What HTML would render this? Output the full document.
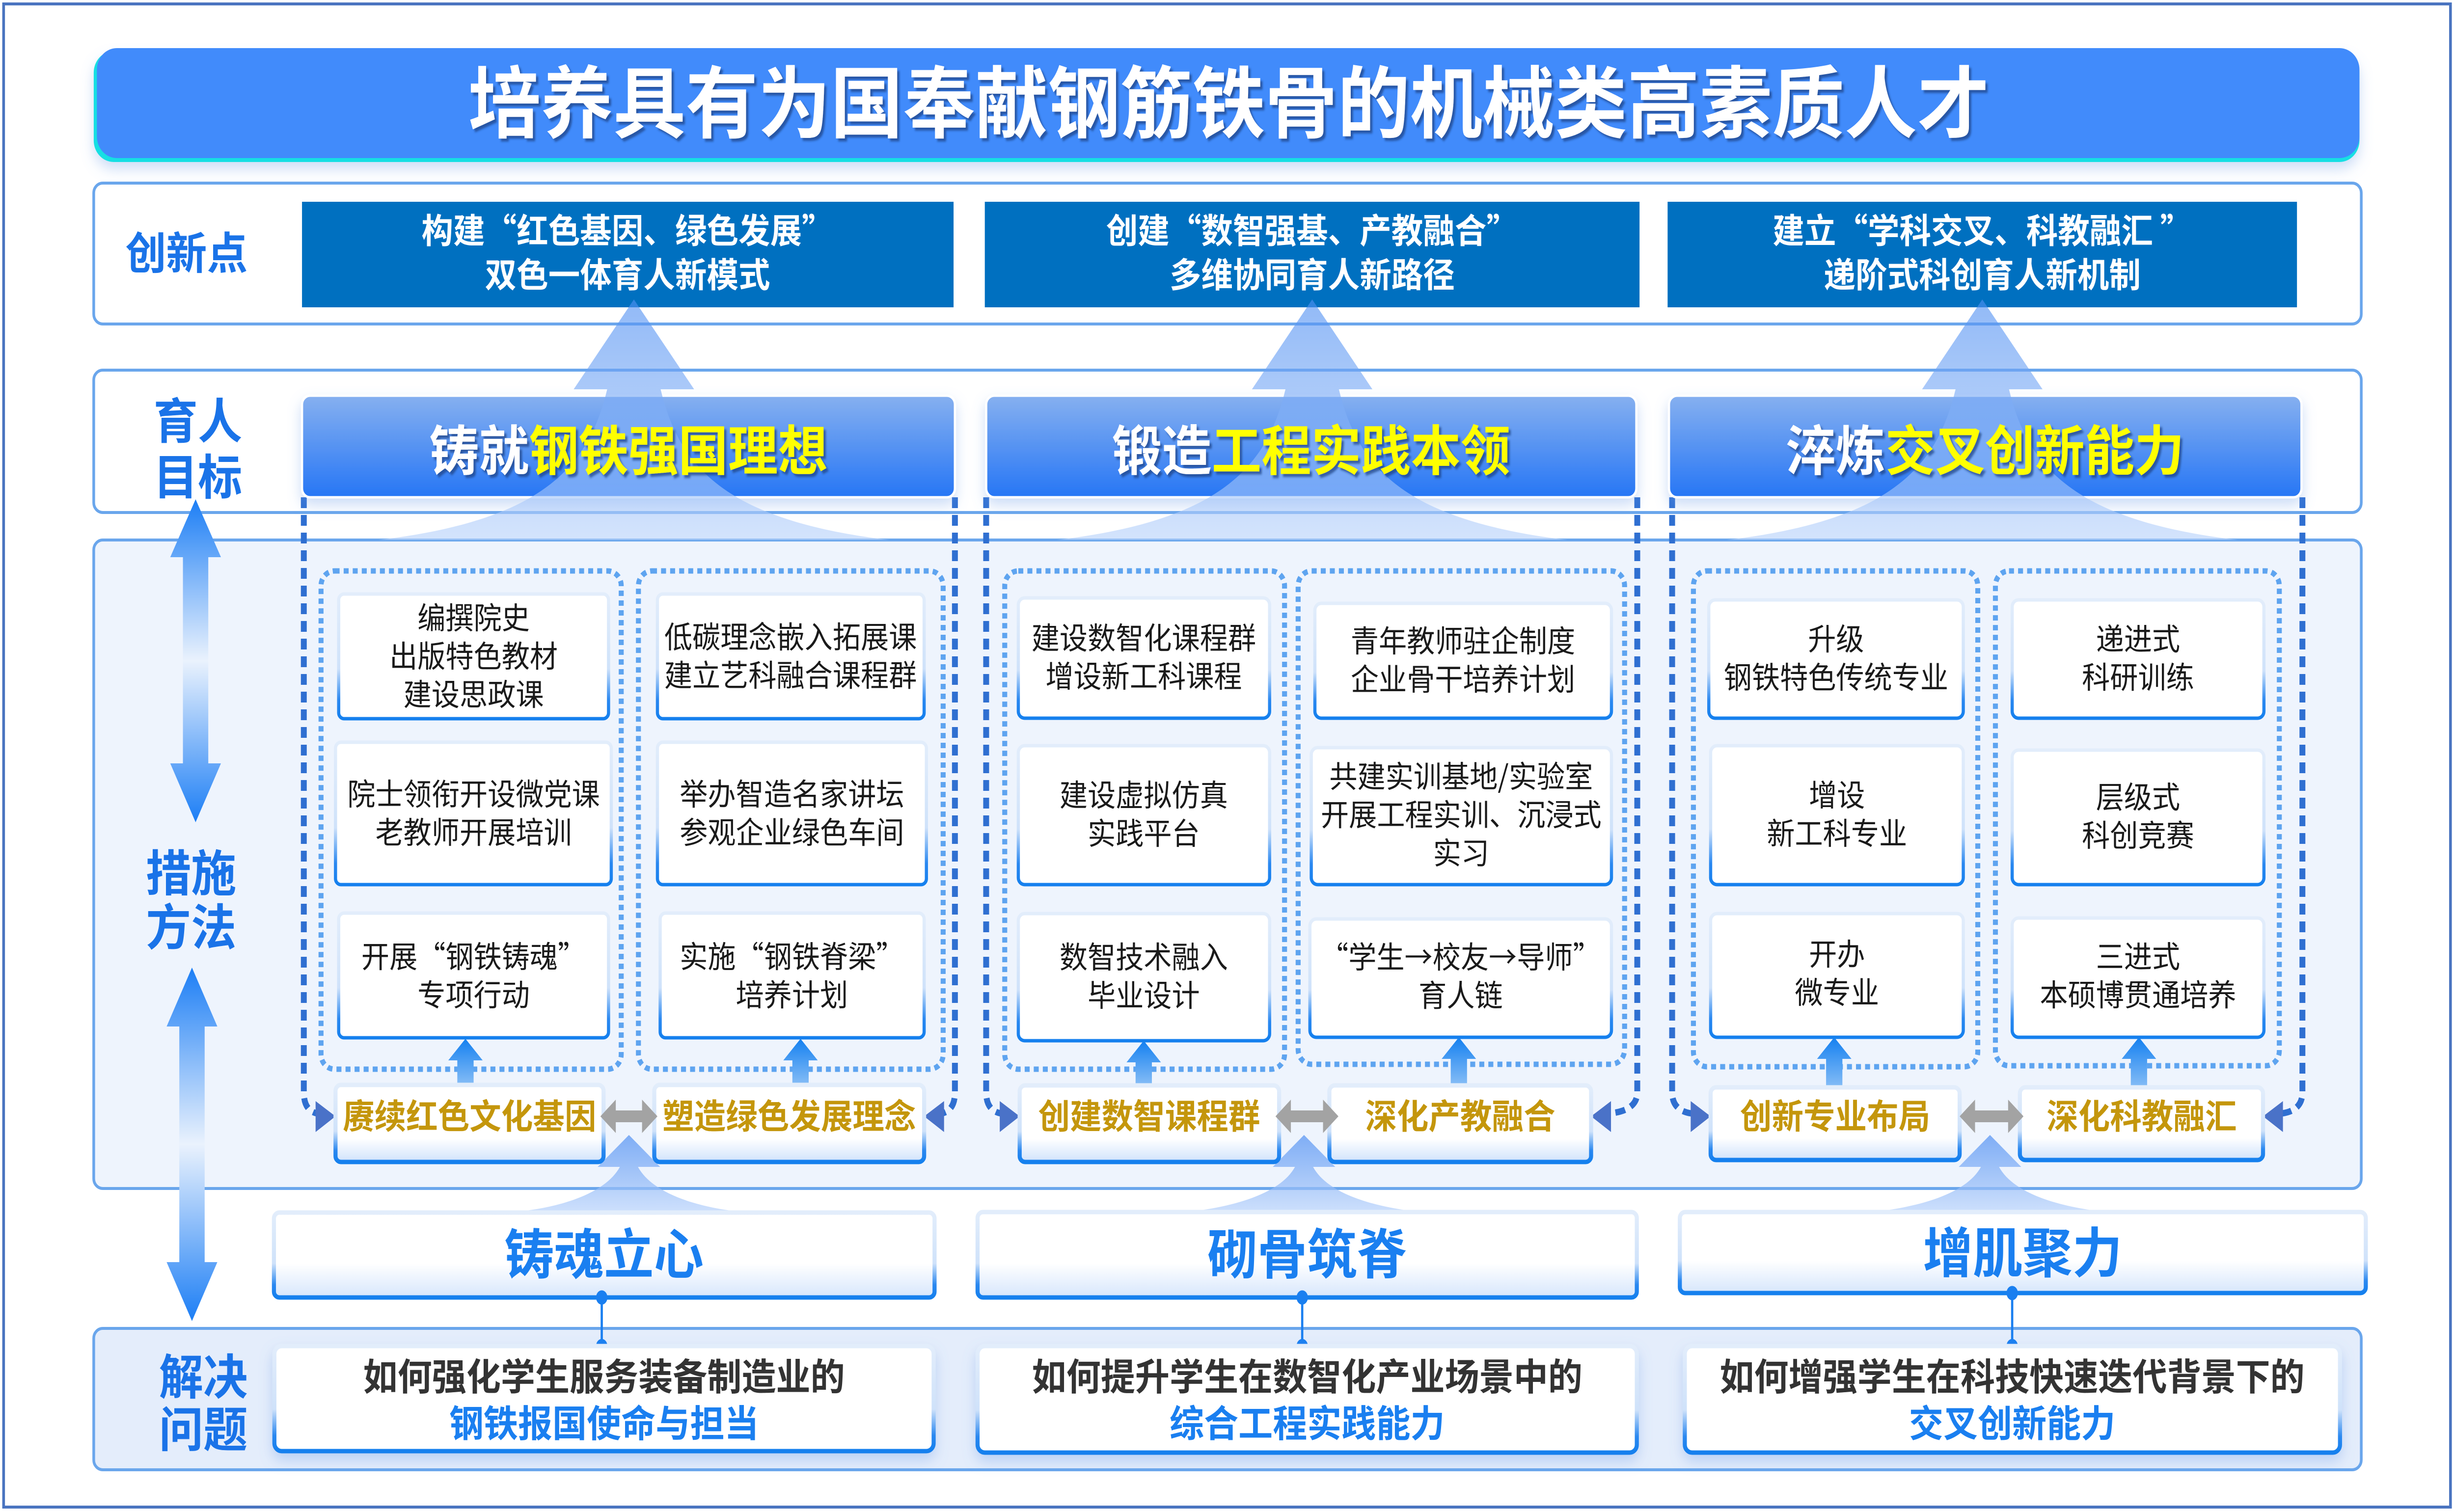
<!DOCTYPE html>
<html><head><meta charset="utf-8">
<style>
html,body{margin:0;padding:0;background:#fff;overflow:hidden;width:100%;height:100%;}
svg{display:block;width:100vw;height:100vh;}
text{font-family:"Noto Sans CJK SC","Liberation Sans",sans-serif;}
.b{font-weight:bold;}
.card{font-size:62px;fill:#1a1a1a;text-anchor:middle;}
.tag{font-size:70px;font-weight:bold;fill:#c4960c;text-anchor:middle;}
</style></head>
<body>
<svg viewBox="0 0 5422 3080" preserveAspectRatio="none" xmlns="http://www.w3.org/2000/svg">
<defs>
  <linearGradient id="goal" x1="0" y1="0" x2="0" y2="1"><stop offset="0" stop-color="#86b0f0"/><stop offset="1" stop-color="#2676f5"/></linearGradient>
  <linearGradient id="cardS" x1="0" y1="0" x2="0" y2="1"><stop offset="0" stop-color="#e2edfb"/><stop offset="0.6" stop-color="#cfe2fa"/><stop offset="0.85" stop-color="#2a88f0"/><stop offset="1" stop-color="#1580ee"/></linearGradient>
  <linearGradient id="tagF" x1="0" y1="0" x2="0" y2="1"><stop offset="0" stop-color="#ffffff"/><stop offset="0.7" stop-color="#ffffff"/><stop offset="1" stop-color="#cfe2fb"/></linearGradient>
  <linearGradient id="bigF" x1="0" y1="0" x2="0" y2="1"><stop offset="0" stop-color="#ffffff"/><stop offset="0.6" stop-color="#ffffff"/><stop offset="1" stop-color="#d6e6fc"/></linearGradient>
  <linearGradient id="tent" x1="0" y1="0" x2="0" y2="1"><stop offset="0" stop-color="#4f8ff2"/><stop offset="1" stop-color="#b9d3fb"/></linearGradient>
  <linearGradient id="upA" x1="0" y1="0" x2="0" y2="1"><stop offset="0" stop-color="#1480f0"/><stop offset="1" stop-color="#86bdf6"/></linearGradient>
  <linearGradient id="dbl" x1="0" y1="0" x2="0" y2="1"><stop offset="0" stop-color="#1c7ef5"/><stop offset="0.5" stop-color="#eaf2fd"/><stop offset="1" stop-color="#1c7ef5"/></linearGradient>
  <filter id="sh" x="-5%" y="-20%" width="110%" height="160%"><feDropShadow dx="0" dy="14" stdDeviation="14" flood-color="#6f9de8" flood-opacity="0.35"/></filter>
  <filter id="tsh" x="-5%" y="-5%" width="110%" height="120%"><feDropShadow dx="5" dy="6" stdDeviation="2" flood-color="#1d3f80" flood-opacity="0.7"/></filter>
</defs>

<rect x="8" y="8" width="5404" height="3062" fill="#fff" stroke="#4a74c0" stroke-width="6"/>

<rect x="207" y="104" width="5004" height="226" rx="44" fill="#12dfe3" filter="url(#sh)"/>
<rect x="214" y="98" width="4997" height="224" rx="44" fill="#418bfb"/>
<text x="2714" y="268" font-size="160" class="b" fill="#fff" text-anchor="middle" filter="url(#tsh)">培养具有为国奉献钢筋铁骨的机械类高素质人才</text>

<rect x="207" y="373" width="5008" height="287" rx="20" fill="#fff" stroke="#6aa6ec" stroke-width="6"/>
<rect x="207" y="754" width="5008" height="290" rx="20" fill="#fff" stroke="#6aa6ec" stroke-width="6"/>
<rect x="207" y="1100" width="5008" height="1321" rx="20" fill="#eef4fd" stroke="#6aa6ec" stroke-width="6"/>
<rect x="207" y="2706" width="5008" height="288" rx="20" fill="#e4edfb" stroke="#6aa6ec" stroke-width="6"/>

<g class="b" fill="#1a73e8" text-anchor="middle">
<text x="412" y="548" font-size="90">创新点</text>
<text x="437" y="893" font-size="98">育人</text>
<text x="437" y="1007" font-size="98">目标</text>
<text x="422" y="1815" font-size="100">措施</text>
<text x="422" y="1925" font-size="100">方法</text>
<text x="449" y="2840" font-size="98">解决</text>
<text x="449" y="2947" font-size="98">问题</text>
</g>

<polygon points="432,1017 488,1135 460,1135 460,1555 488,1555 432,1675 376,1555 404,1555 404,1135 376,1135" fill="url(#dbl)"/>
<polygon points="424,1971 480,2091 452,2091 452,2571 480,2571 424,2691 368,2571 396,2571 396,2091 368,2091" fill="url(#dbl)"/>

<rect x="667" y="411" width="1439" height="215" fill="#0070c0"/>
<rect x="2175" y="411" width="1446" height="215" fill="#0070c0"/>
<rect x="3683" y="411" width="1390" height="215" fill="#0070c0"/>
<g class="b" fill="#fff" font-size="70" text-anchor="middle">
<text x="1386" y="495">构建“红色基因、绿色发展”</text>
<text x="1386" y="585">双色一体育人新模式</text>
<text x="2898" y="495">创建“数智强基、产教融合”</text>
<text x="2898" y="585">多维协同育人新路径</text>
<text x="4378" y="495">建立“学科交叉、科教融汇 ”</text>
<text x="4378" y="585">递阶式科创育人新机制</text>
</g>

<g fill="none" stroke="#2f6fd1" stroke-width="13" stroke-dasharray="22 14">
<path d="M671,1013 V2225 Q671,2262 700,2268"/>
<path d="M2109,1013 V2225 Q2109,2262 2080,2268"/>
<path d="M2178,1013 V2225 Q2178,2262 2210,2268"/>
<path d="M3616,1013 V2225 Q3616,2262 3556,2268"/>
<path d="M3693,1013 V2225 Q3693,2262 3735,2268"/>
<path d="M5085,1013 V2225 Q5085,2262 5040,2268"/>
</g>
<g fill="#4a72c8">
<polygon points="697,2243 741,2274 697,2306"/>
<polygon points="2085,2243 2041,2274 2085,2306"/>
<polygon points="2208,2243 2252,2274 2208,2306"/>
<polygon points="3558,2243 3514,2274 3558,2306"/>
<polygon points="3734,2243 3778,2274 3734,2306"/>
<polygon points="5042,2243 4998,2274 5042,2306"/>
</g>

<g filter="url(#sh)">
<rect x="667" y="806" width="1442" height="207" rx="18" fill="url(#goal)" stroke="#fff" stroke-width="5"/>
<rect x="2178" y="806" width="1436" height="207" rx="18" fill="url(#goal)" stroke="#fff" stroke-width="5"/>
<rect x="3686" y="806" width="1397" height="207" rx="18" fill="url(#goal)" stroke="#fff" stroke-width="5"/>
</g>

<g fill="url(#tent)" opacity="0.62">
<path d="M1400,610 L1533,793 L1459,793 C1500,950 1600,1060 1964,1100 L836,1100 C1200,1060 1300,950 1341,793 L1267,793 Z"/>
<path d="M2898,610 L3031,793 L2957,793 C2998,950 3098,1060 3462,1100 L2334,1100 C2698,1060 2798,950 2839,793 L2765,793 Z"/>
<path d="M4378,610 L4511,793 L4437,793 C4478,950 4578,1060 4942,1100 L3814,1100 C4178,1060 4278,950 4319,793 L4245,793 Z"/>
</g>
<g class="b" font-size="110" text-anchor="middle" filter="url(#tsh)">
<text x="1388" y="958" fill="#fff">铸就<tspan fill="#ffff00">钢铁强国理想</tspan></text>
<text x="2896" y="958" fill="#fff">锻造<tspan fill="#ffff00">工程实践本领</tspan></text>
<text x="4384" y="958" fill="#fff">淬炼<tspan fill="#ffff00">交叉创新能力</tspan></text>
</g>

<g fill="none" stroke="#5ea4f0" stroke-width="11" stroke-dasharray="11 9">
<rect x="709" y="1163" width="663" height="1015" rx="30"/>
<rect x="1410" y="1163" width="673" height="1015" rx="30"/>
<rect x="2219" y="1163" width="618" height="1015" rx="30"/>
<rect x="2867" y="1163" width="721" height="1005" rx="30"/>
<rect x="3740" y="1163" width="628" height="1010" rx="30"/>
<rect x="4407" y="1163" width="627" height="1008" rx="30"/>
</g>

<g fill="#fff" stroke="url(#cardS)" stroke-width="7">
<rect x="748" y="1210" width="596" height="254" rx="12"/>
<rect x="741" y="1512" width="609" height="290" rx="12"/>
<rect x="748" y="1860" width="596" height="254" rx="12"/>
<rect x="1452" y="1210" width="589" height="254" rx="12"/>
<rect x="1452" y="1512" width="594" height="290" rx="12"/>
<rect x="1458" y="1860" width="583" height="254" rx="12"/>
<rect x="2249" y="1218" width="555" height="245" rx="14"/>
<rect x="2249" y="1519" width="555" height="283" rx="14"/>
<rect x="2249" y="1861" width="555" height="259" rx="14"/>
<rect x="2904" y="1229" width="655" height="234" rx="14"/>
<rect x="2896" y="1523" width="663" height="279" rx="14"/>
<rect x="2893" y="1872" width="666" height="241" rx="14"/>
<rect x="3774" y="1222" width="562" height="241" rx="14"/>
<rect x="3778" y="1519" width="558" height="283" rx="14"/>
<rect x="3778" y="1861" width="558" height="252" rx="14"/>
<rect x="4444" y="1222" width="556" height="241" rx="14"/>
<rect x="4444" y="1528" width="556" height="274" rx="14"/>
<rect x="4444" y="1870" width="556" height="243" rx="14"/>
</g>
<g class="card">
<text x="1046" y="1281">编撰院史</text><text x="1046" y="1359">出版特色教材</text><text x="1046" y="1437">建设思政课</text>
<text x="1046" y="1640">院士领衔开设微党课</text><text x="1046" y="1718">老教师开展培训</text>
<text x="1046" y="1971">开展“钢铁铸魂”</text><text x="1046" y="2049">专项行动</text>
<text x="1746" y="1320">低碳理念嵌入拓展课</text><text x="1746" y="1398">建立艺科融合课程群</text>
<text x="1749" y="1640">举办智造名家讲坛</text><text x="1749" y="1718">参观企业绿色车间</text>
<text x="1749" y="1971">实施“钢铁脊梁”</text><text x="1749" y="2049">培养计划</text>
<text x="2526" y="1322">建设数智化课程群</text><text x="2526" y="1400">增设新工科课程</text>
<text x="2526" y="1642">建设虚拟仿真</text><text x="2526" y="1720">实践平台</text>
<text x="2526" y="1972">数智技术融入</text><text x="2526" y="2050">毕业设计</text>
<text x="3231" y="1328">青年教师驻企制度</text><text x="3231" y="1406">企业骨干培养计划</text>
<text x="3227" y="1604">共建实训基地/实验室</text><text x="3227" y="1682">开展工程实训、沉浸式</text><text x="3227" y="1760">实习</text>
<text x="3226" y="1972">“学生→校友→导师”</text><text x="3226" y="2050">育人链</text>
<text x="4055" y="1324">升级</text><text x="4055" y="1402">钢铁特色传统专业</text>
<text x="4057" y="1642">增设</text><text x="4057" y="1720">新工科专业</text>
<text x="4057" y="1966">开办</text><text x="4057" y="2044">微专业</text>
<text x="4722" y="1324">递进式</text><text x="4722" y="1402">科研训练</text>
<text x="4722" y="1646">层级式</text><text x="4722" y="1724">科创竞赛</text>
<text x="4722" y="1971">三进式</text><text x="4722" y="2049">本硕博贯通培养</text>
</g>

<g fill="url(#upA)">
<path d="M1028,2116 l38,44 h-20 v50 h-36 v-50 h-20 z"/>
<path d="M1768,2116 l38,44 h-20 v50 h-36 v-50 h-20 z"/>
<path d="M2526,2120 l38,44 h-20 v46 h-36 v-46 h-20 z"/>
<path d="M3222,2113 l38,44 h-20 v53 h-36 v-53 h-20 z"/>
<path d="M4051,2113 l38,44 h-20 v58 h-36 v-58 h-20 z"/>
<path d="M4724,2113 l38,44 h-20 v58 h-36 v-58 h-20 z"/>
</g>

<g fill="url(#tent)" opacity="0.7">
<path d="M1389,2312 L1458,2377 L1409,2377 C1440,2430 1540,2462 1656,2470 L1122,2470 C1238,2462 1338,2430 1369,2377 L1320,2377 Z"/>
<path d="M2880,2312 L2949,2377 L2900,2377 C2931,2430 3031,2462 3170,2472 L2587,2472 C2726,2462 2829,2430 2860,2377 L2811,2377 Z"/>
<path d="M4395,2312 L4464,2377 L4415,2377 C4446,2430 4546,2462 4685,2472 L4102,2472 C4241,2462 4344,2430 4375,2377 L4326,2377 Z"/>
</g>

<g fill="url(#tagF)" stroke="url(#cardS)" stroke-width="9">
<rect x="741" y="2210" width="592" height="157" rx="12"/>
<rect x="1445" y="2210" width="596" height="157" rx="12"/>
<rect x="2252" y="2211" width="573" height="156" rx="12"/>
<rect x="2936" y="2211" width="578" height="156" rx="12"/>
<rect x="3778" y="2215" width="550" height="148" rx="12"/>
<rect x="4461" y="2215" width="537" height="148" rx="12"/>
</g>
<g class="tag">
<text x="1037" y="2299">赓续红色文化基因</text>
<text x="1743" y="2299">塑造绿色发展理念</text>
<text x="2538" y="2299">创建数智课程群</text>
<text x="3225" y="2299">深化产教融合</text>
<text x="4053" y="2299">创新专业布局</text>
<text x="4730" y="2299">深化科教融汇</text>
</g>
<g fill="#a3a3a3">
<polygon points="1326,2274 1360,2240 1360,2262 1418,2262 1418,2240 1452,2274 1418,2308 1418,2286 1360,2286 1360,2308"/>
<polygon points="2817,2274 2851,2240 2851,2262 2922,2262 2922,2240 2956,2274 2922,2308 2922,2286 2851,2286 2851,2308"/>
<polygon points="4328,2274 4362,2240 4362,2262 4435,2262 4435,2240 4469,2274 4435,2308 4435,2286 4362,2286 4362,2308"/>
</g>

<g fill="url(#bigF)" stroke="url(#cardS)" stroke-width="9">
<rect x="605" y="2470" width="1459" height="173" rx="12"/>
<rect x="2159" y="2469" width="1456" height="174" rx="12"/>
<rect x="3710" y="2469" width="1515" height="165" rx="12"/>
</g>
<g class="b" font-size="110" fill="#1a7ff0" text-anchor="middle">
<text x="1334" y="2595">铸魂立心</text>
<text x="2887" y="2595">砌骨筑脊</text>
<text x="4467" y="2592">增肌聚力</text>
</g>

<g stroke="#1a7ff0" stroke-width="5" fill="#1a7ff0">
<line x1="1329" y1="2643" x2="1329" y2="2742"/><ellipse cx="1329" cy="2643" rx="10" ry="12"/><ellipse cx="1329" cy="2742" rx="10" ry="12"/>
<line x1="2876" y1="2643" x2="2876" y2="2742"/><ellipse cx="2876" cy="2643" rx="10" ry="12"/><ellipse cx="2876" cy="2742" rx="10" ry="12"/>
<line x1="4444" y1="2634" x2="4444" y2="2742"/><ellipse cx="4444" cy="2634" rx="10" ry="12"/><ellipse cx="4444" cy="2742" rx="10" ry="12"/>
</g>

<g fill="#fff" stroke="url(#cardS)" stroke-width="9" filter="url(#sh)">
<rect x="606" y="2742" width="1456" height="214" rx="16"/>
<rect x="2159" y="2742" width="1456" height="217" rx="16"/>
<rect x="3721" y="2742" width="1447" height="217" rx="16"/>
</g>
<g class="b" font-size="76" text-anchor="middle">
<text x="1334" y="2832" fill="#333">如何强化学生服务装备制造业的</text>
<text x="1334" y="2927" fill="#1a7ff0">钢铁报国使命与担当</text>
<text x="2887" y="2832" fill="#333">如何提升学生在数智化产业场景中的</text>
<text x="2887" y="2927" fill="#1a7ff0">综合工程实践能力</text>
<text x="4444" y="2832" fill="#333">如何增强学生在科技快速迭代背景下的</text>
<text x="4444" y="2927" fill="#1a7ff0">交叉创新能力</text>
</g>
</svg>
</body></html>
